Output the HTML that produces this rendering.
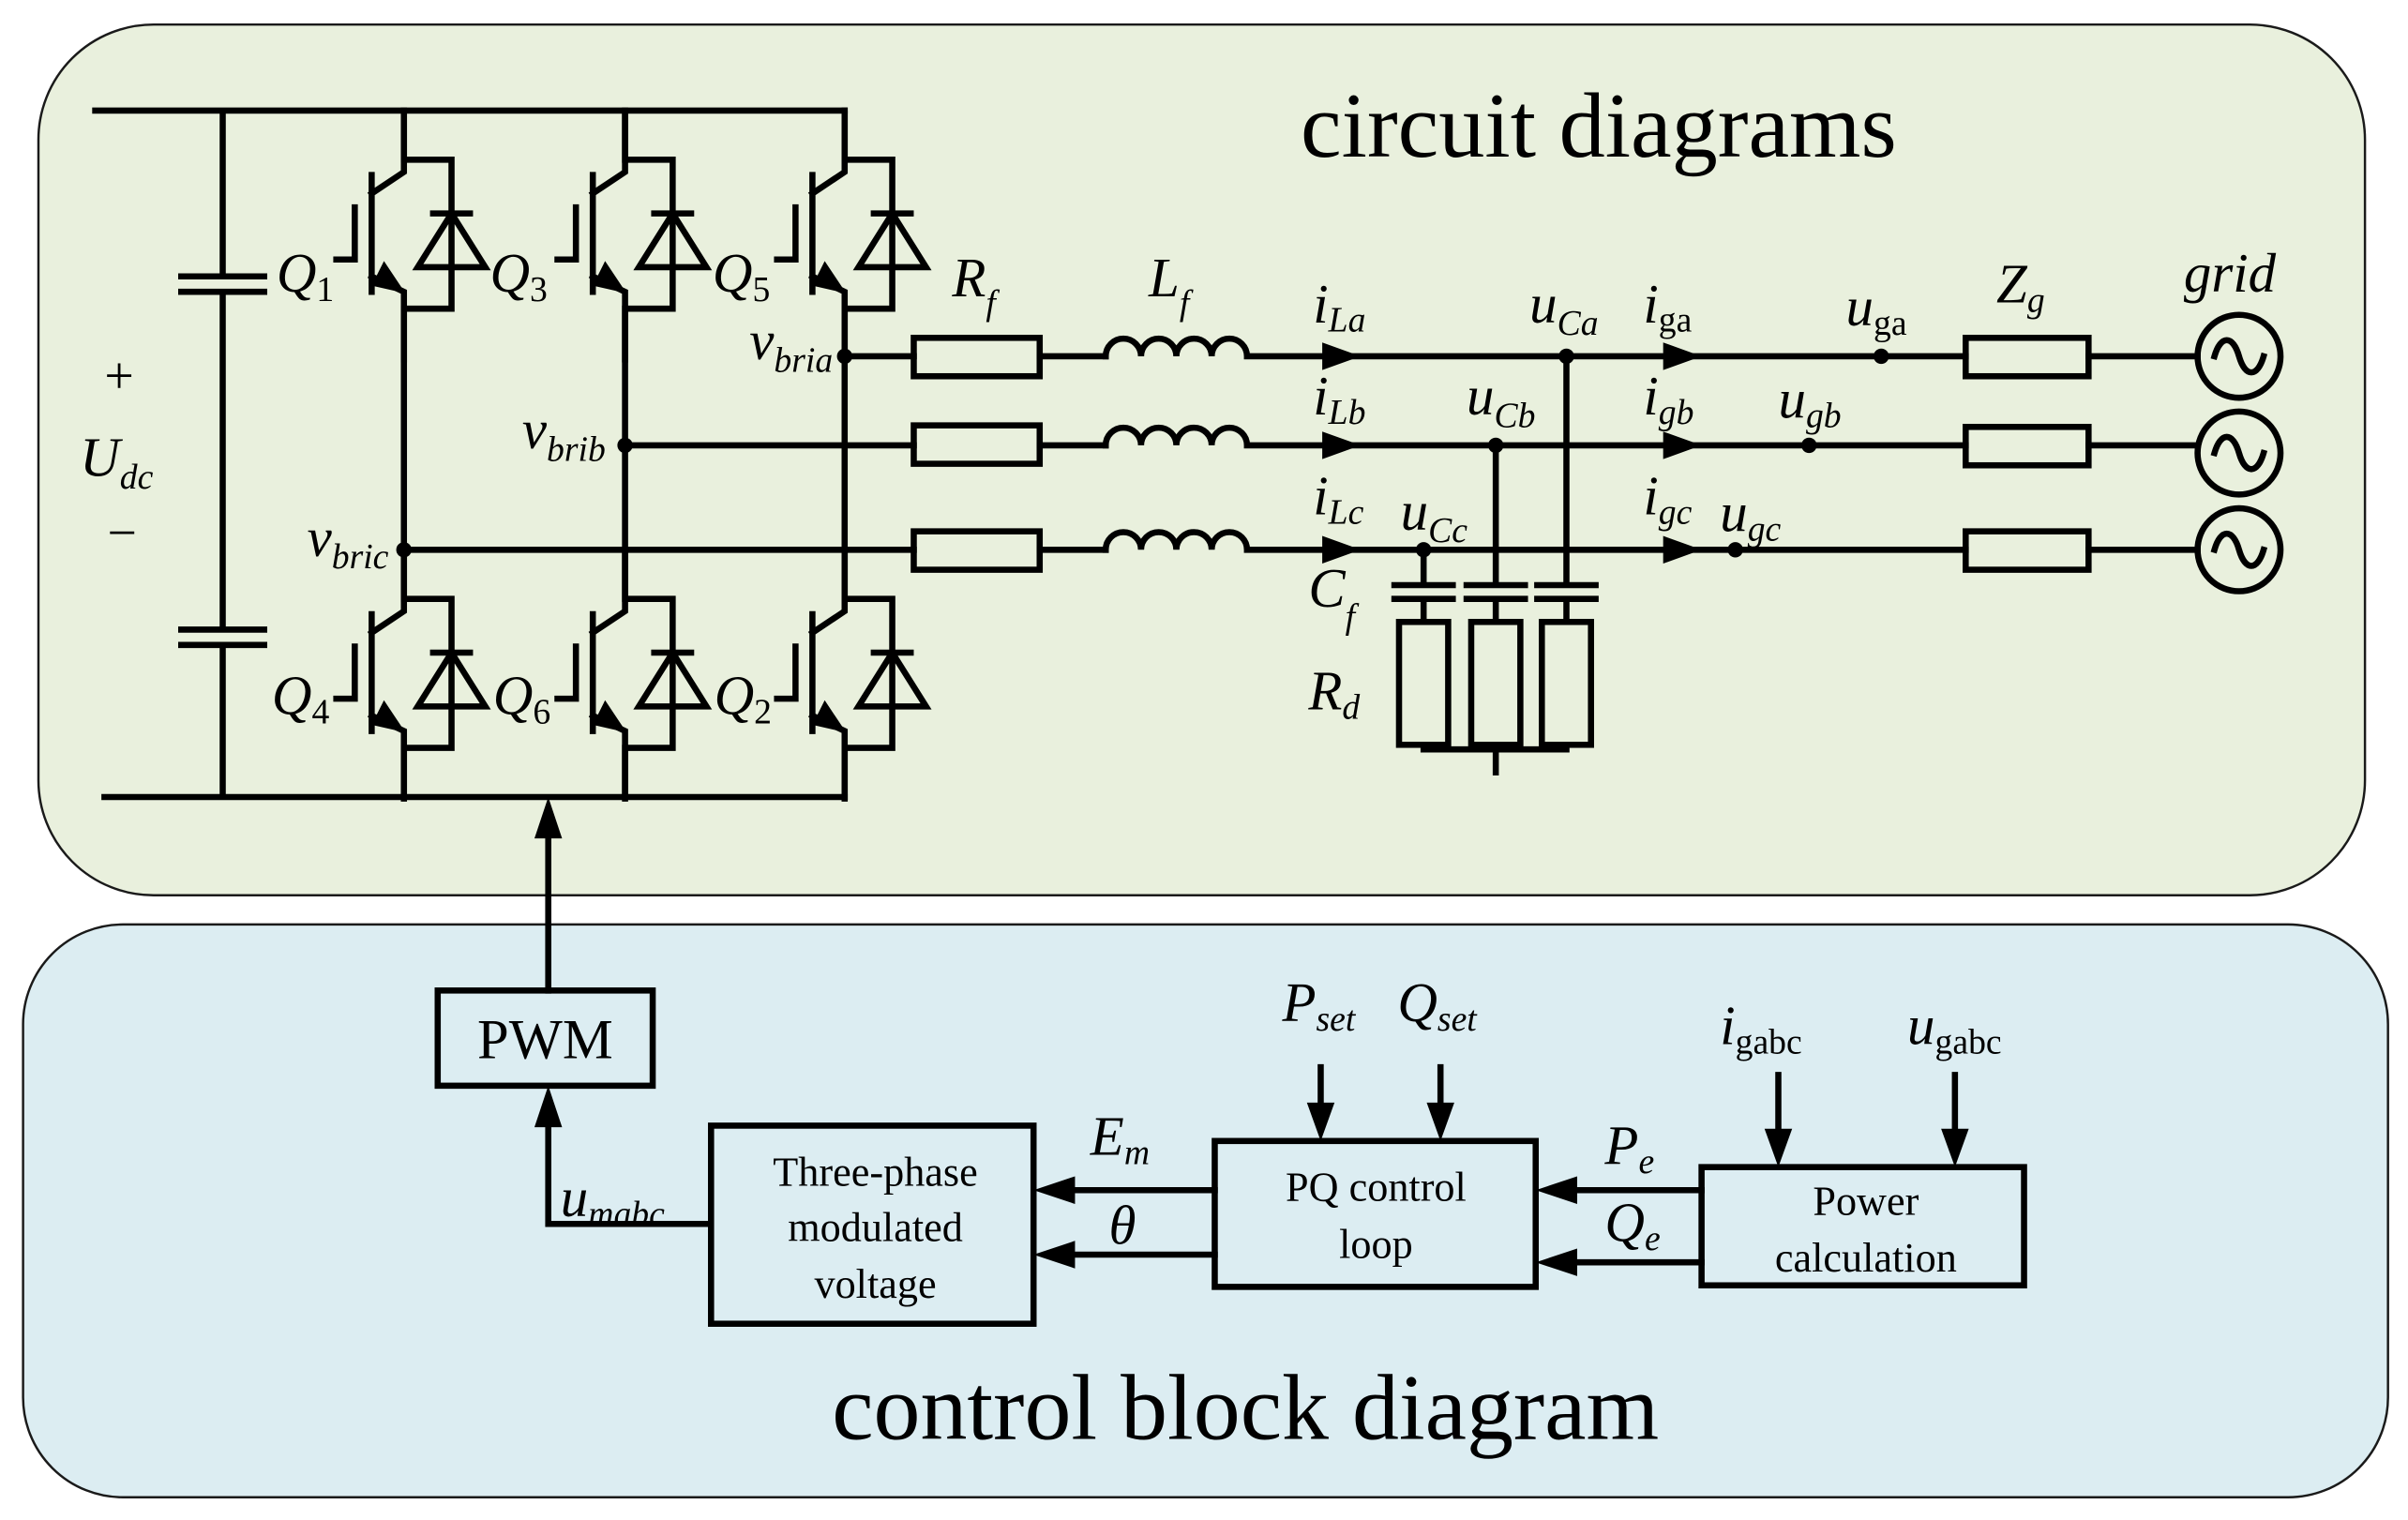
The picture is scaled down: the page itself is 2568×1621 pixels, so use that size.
<!DOCTYPE html>
<html><head><meta charset="utf-8"><style>html,body{margin:0;padding:0;background:#fff}svg{display:block}</style></head><body>
<svg width="2568" height="1621" viewBox="0 0 1568 989.8" xmlns="http://www.w3.org/2000/svg" font-family="Liberation Serif, serif">
<defs>
<g id="sw">
<path d="M0,-30 V8 L-21,22 M-21,76 L0,86 V130 M-21,10 V86 M-44,65 H-32 V31 M0,0 H31 V97 H0 M19,35 H43 M9,70 H53 L31,35 Z" fill="none"/>
<path d="M1,87 L-13,66 L-21,82 Z" fill="#000" stroke="none"/>
</g>
<g id="src"><circle cx="0" cy="0" r="27" fill="none"/><path d="M-16,0 C-12,-14 -4,-14 0,0 C4,14 12,14 16,0" fill="none"/></g>
</defs>
<rect x="25" y="16" width="1515" height="567" rx="75" fill="#e9f0dd" stroke="#1a1a1a" stroke-width="1.5"/>
<rect x="15" y="602" width="1540" height="373" rx="65" fill="#dcedf2" stroke="#1a1a1a" stroke-width="1.5"/>
<g stroke="#000" stroke-width="4" fill="none" stroke-linecap="square">
<path d="M62,72 H550 M68,519 H550 M145,72 V178 M145,192 V408 M145,422 V519 M118,180 H172 M118,190 H172 M118,410 H172 M118,420 H172"/>
<path d="M263,72 V104 M407,72 V104 M550,72 V104 M263,201 V390 M407,201 V390 M550,201 V390 M263,487 V519 M407,487 V519 M550,487 V519"/>
<use href="#sw" x="263" y="104"/><use href="#sw" x="407" y="104"/><use href="#sw" x="550" y="104"/>
<use href="#sw" x="263" y="390"/><use href="#sw" x="407" y="390"/><use href="#sw" x="550" y="390"/>
<path d="M550,232 H595 M407,290 H595 M263,358 H595"/>
<rect x="595" y="220" width="82" height="25"/><rect x="595" y="277" width="82" height="25"/><rect x="595" y="346" width="82" height="25"/>
<path d="M677,232 H720 M677,290 H720 M677,358 H720"/>
<path d="M720,232 a11.5,11.5 0 0 1 23,0 a11.5,11.5 0 0 1 23,0 a11.5,11.5 0 0 1 23,0 a11.5,11.5 0 0 1 23,0 M812,232 H1280"/>
<path d="M720,290 a11.5,11.5 0 0 1 23,0 a11.5,11.5 0 0 1 23,0 a11.5,11.5 0 0 1 23,0 a11.5,11.5 0 0 1 23,0 M812,290 H1280"/>
<path d="M720,358 a11.5,11.5 0 0 1 23,0 a11.5,11.5 0 0 1 23,0 a11.5,11.5 0 0 1 23,0 a11.5,11.5 0 0 1 23,0 M812,358 H1280"/>
<rect x="1280" y="220" width="80" height="25"/><rect x="1280" y="278" width="80" height="25"/><rect x="1280" y="346" width="80" height="25"/>
<path d="M1360,232 H1431 M1360,290 H1431 M1360,358 H1431"/>
<use href="#src" x="1458" y="232"/><use href="#src" x="1458" y="295"/><use href="#src" x="1458" y="358"/>
<path d="M1020,232 V381 M974,290 V381 M927,358 V381 M908,381 H946 M908,390 H946 M955,381 H993 M955,390 H993 M1001,381 H1039 M1001,390 H1039 M927,390 V405 M974,390 V405 M1020,390 V405 M927,485 V488 M974,485 V503 M1020,485 V488 M927,488 H1020"/>
<rect x="911" y="405" width="32" height="80"/><rect x="958" y="405" width="32" height="80"/><rect x="1004" y="405" width="32" height="80"/>
<rect x="285" y="645" width="140" height="62"/>
<rect x="463" y="733" width="210" height="129"/>
<rect x="791" y="743" width="209" height="95"/>
<rect x="1108" y="760" width="210" height="77"/>
<path d="M357,645 V540 M357,797 V728 M357,797 H462 M791,775 H695 M791,817 H695 M1108,775 H1022 M1108,822 H1022 M860,695 V722 M938,695 V722 M1158,700 V740 M1273,700 V740"/>
</g>
<g fill="#000">
<circle cx="550" cy="232" r="5"/><circle cx="407" cy="290" r="5"/><circle cx="263" cy="358" r="5"/>
<circle cx="1020" cy="232" r="5"/><circle cx="974" cy="290" r="5"/><circle cx="927" cy="358" r="5"/>
<circle cx="1225" cy="232" r="5"/><circle cx="1178" cy="290" r="5"/><circle cx="1130" cy="358" r="5"/>
<path d="M861,223 L886,232 L861,241Z M861,281 L886,290 L861,299Z M861,349 L886,358 L861,367Z"/>
<path d="M1083,223 L1108,232 L1083,241Z M1083,281 L1108,290 L1083,299Z M1083,349 L1108,358 L1083,367Z"/>
<path d="M348,546 L357,519 L366,546Z M348,734 L357,707 L366,734Z"/>
<path d="M700,766 L673,775 L700,784Z M700,808 L673,817 L700,826Z M1027,766 L1000,775 L1027,784Z M1027,813 L1000,822 L1027,831Z"/>
<path d="M851,718 L860,743 L869,718Z M929,718 L938,743 L947,718Z M1149,735 L1158,760 L1167,735Z M1264,735 L1273,760 L1282,735Z"/>
</g>
<g fill="#000" font-size="36" font-style="italic">
<text x="180" y="190">Q<tspan font-size="23" font-style="normal" dy="6">1</tspan></text>
<text x="319" y="190">Q<tspan font-size="23" font-style="normal" dy="6">3</tspan></text>
<text x="464" y="190">Q<tspan font-size="23" font-style="normal" dy="6">5</tspan></text>
<text x="177" y="465">Q<tspan font-size="23" font-style="normal" dy="6">4</tspan></text>
<text x="321" y="465">Q<tspan font-size="23" font-style="normal" dy="6">6</tspan></text>
<text x="465" y="465">Q<tspan font-size="23" font-style="normal" dy="6">2</tspan></text>
<text x="488" y="234">v<tspan font-size="23" dy="8">bria</tspan></text>
<text x="340" y="292">v<tspan font-size="23" dy="8">brib</tspan></text>
<text x="200" y="362">v<tspan font-size="23" dy="8">bric</tspan></text>
<text x="52" y="310">U<tspan font-size="23" dy="8">dc</tspan></text>
<text x="620" y="193">R<tspan font-size="23" dy="12">f</tspan></text>
<text x="748" y="193">L<tspan font-size="23" dy="12">f</tspan></text>
<text x="855" y="210">i<tspan font-size="23" dy="6">La</tspan></text>
<text x="855" y="270">i<tspan font-size="23" dy="6">Lb</tspan></text>
<text x="855" y="335">i<tspan font-size="23" dy="6">Lc</tspan></text>
<text x="996" y="210">u<tspan font-size="23" dy="8">Ca</tspan></text>
<text x="955" y="270">u<tspan font-size="23" dy="8">Cb</tspan></text>
<text x="912" y="345">u<tspan font-size="23" dy="8">Cc</tspan></text>
<text x="1070" y="210">i<tspan font-size="23" font-style="normal" dy="6">ga</tspan></text>
<text x="1070" y="270">i<tspan font-size="23" dy="6">gb</tspan></text>
<text x="1070" y="335">i<tspan font-size="23" dy="6">gc</tspan></text>
<text x="1202" y="212">u<tspan font-size="23" font-style="normal" dy="6">ga</tspan></text>
<text x="1158" y="272">u<tspan font-size="23" dy="6">gb</tspan></text>
<text x="1120" y="346">u<tspan font-size="23" dy="6">gc</tspan></text>
<text x="1300" y="197">Z<tspan font-size="23" dy="6">g</tspan></text>
<text x="1422" y="190">grid</text>
<text x="852" y="395">C<tspan font-size="23" dy="14">f</tspan></text>
<text x="852" y="462">R<tspan font-size="23" dy="6">d</tspan></text>
<text x="835" y="665">P<tspan font-size="23" dy="6">set</tspan></text>
<text x="910" y="665">Q<tspan font-size="23" dy="6">set</tspan></text>
<text x="1120" y="680">i<tspan font-size="23" font-style="normal" dy="6">gabc</tspan></text>
<text x="1242" y="680">u<tspan font-size="23" font-style="normal" dy="6">gabc</tspan></text>
<text x="710" y="752">E<tspan font-size="23" dy="6">m</tspan></text>
<text x="722" y="810">θ</text>
<text x="1045" y="758">P<tspan font-size="23" dy="6">e</tspan></text>
<text x="1045" y="808">Q<tspan font-size="23" dy="6">e</tspan></text>
<text x="365" y="792">u<tspan font-size="23" dy="6">mabc</tspan></text>
</g>
<g fill="#000" font-size="34">
<text x="68" y="256">+</text><text x="70" y="358">−</text>
</g>
<g fill="#000" text-anchor="middle">
<text x="1041" y="102" font-size="60">circuit diagrams</text>
<text x="811" y="937" font-size="61">control block diagram</text>
<text x="355" y="689" font-size="37">PWM</text>
<g font-size="27"><text x="570" y="772">Three-phase</text><text x="570" y="808">modulated</text><text x="570" y="845">voltage</text>
<text x="896" y="782">PQ control</text><text x="896" y="819">loop</text>
<text x="1215" y="791">Power</text><text x="1215" y="828">calculation</text></g>
</g>
</svg>
</body></html>
